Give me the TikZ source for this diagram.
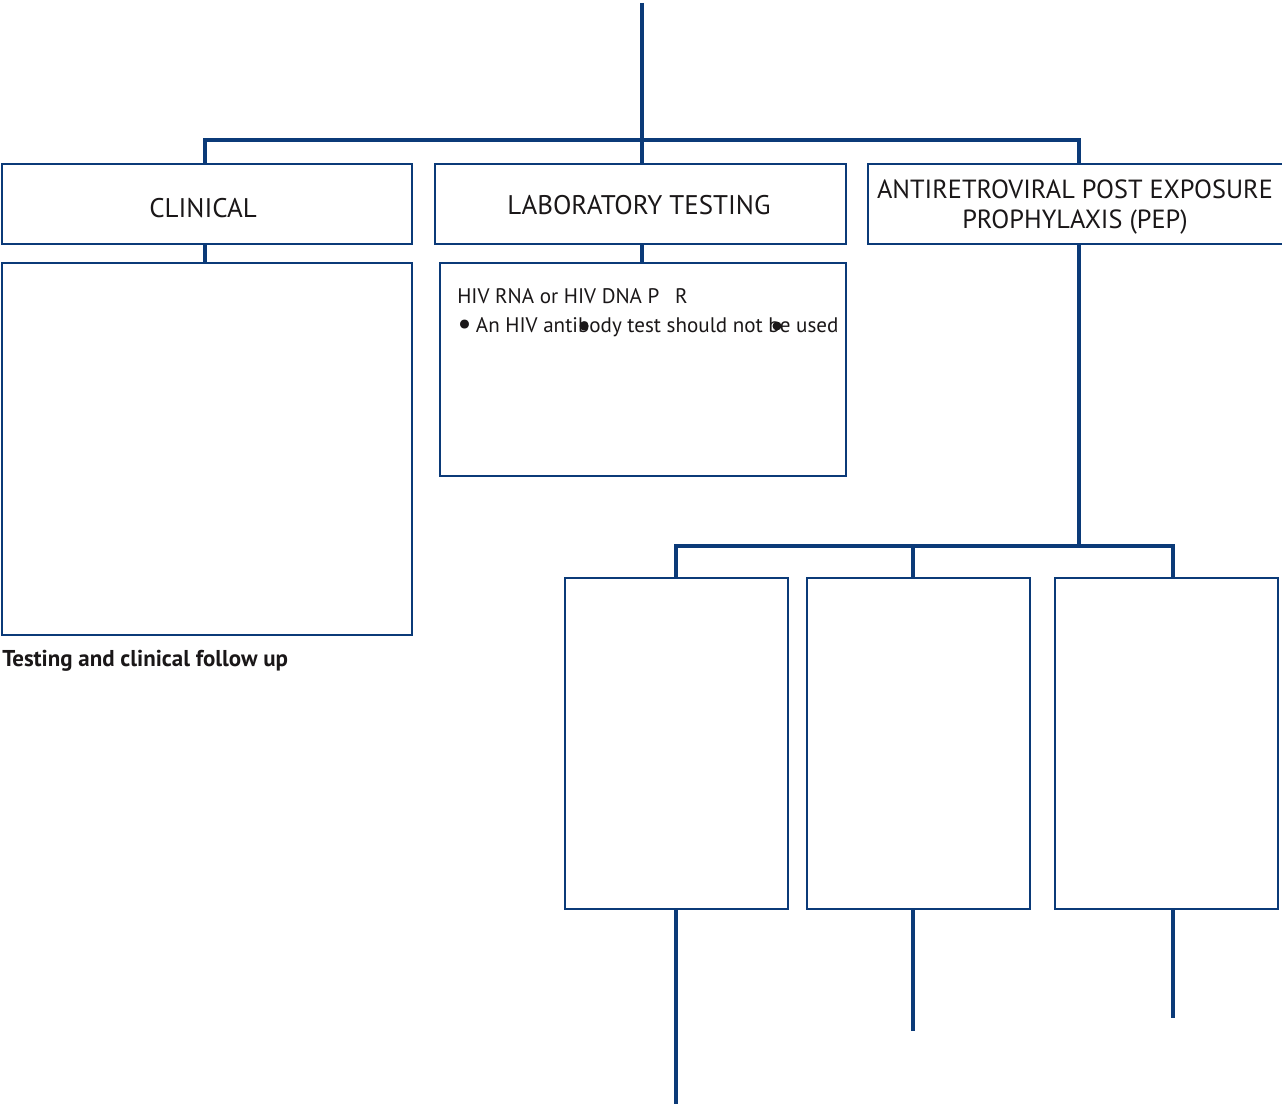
\documentclass[tikz,border=0pt]{standalone}
\usepackage{fontspec}
\setmainfont{PT Sans}
\usetikzlibrary{positioning}
\definecolor{navy}{HTML}{0B3A78}
\definecolor{ink}{HTML}{1A1718}
\tikzset{
  box/.style={draw=navy, line width=0.9pt, fill=white, inner sep=0pt},
  link/.style={draw=navy, line width=2.3pt},
  head/.style={text=ink, font=\fontsize{20.2}{22.5}\selectfont, align=center},
  body/.style={text=ink, font=\fontsize{15.8}{22}\selectfont, align=left, inner sep=0pt},
  note/.style={text=ink, font=\fontsize{17.2}{20}\selectfont\bfseries, inner sep=0pt}
}
\begin{document}
\begin{tikzpicture}[x=0.75pt,y=-0.75pt]
\clip (0,0) rectangle (1282,1106);
\fill[white] (0,0) rectangle (1282,1106);

% top-level headings
\node[box, minimum width=410*0.75pt, minimum height=80*0.75pt] (clin) at (207,204) {};
\node[head] (clint) at (203,208) {CLINICAL};
\node[box, minimum width=411*0.75pt, minimum height=80*0.75pt] (lab) at (640.5,204) {};
\node[head] (labt) at (639,205) {LABORATORY TESTING};
\node[box, minimum width=416*0.75pt, minimum height=80*0.75pt] (pep) at (1076,204) {};
\node[head, font=\fontsize{19.7}{22.5}\selectfont] (pept) at (1075,207) {ANTIRETROVIRAL POST EXPOSURE\\PROPHYLAXIS (PEP)};

% detail boxes
\node[box, minimum width=410*0.75pt, minimum height=372*0.75pt] (clinb) at (207,449) {};
\node[box, minimum width=406*0.75pt, minimum height=213*0.75pt] (labb) at (643,369.5) {};
\node[body, anchor=north west] (labtxt) at (457,288) {HIV RNA or HIV DNA P\hspace{0.75em}R\\\raisebox{-0.08em}{\fontsize{24}{22}\selectfont\textbullet}\hspace{0.2em}An HIV antibody test should not be used};
\fill[ink] (584,326) circle (4.5);
\fill[ink] (777,326) circle (4.5);

% PEP option boxes
\node[box, minimum width=223*0.75pt, minimum height=331*0.75pt] (opta) at (676.5,743.5) {};
\node[box, minimum width=223*0.75pt, minimum height=331*0.75pt] (optb) at (918.5,743.5) {};
\node[box, minimum width=223*0.75pt, minimum height=331*0.75pt] (optc) at (1166.5,743.5) {};

\node[note, anchor=north west] (follow) at (2,650) {Testing and clinical follow up};

% connectors
\coordinate (top) at (642,3);
\coordinate (busl) at (205,140);
\coordinate (busr) at (1079,140);
\draw[link] (top) -- (642,140);
\draw[link] (busl |- clin.north) -- (busl) -- (busr) -- (busr |- pep.north);
\draw[link] (642,140) -- (642,164);
\draw[link] (205,244) -- (205,263);
\draw[link] (642,244) -- (642,263);
\draw[link] (1079,244) -- (1079,546);
\draw[link] (676,578) -- (676,546) -- (1173,546) -- (1173,578);
\draw[link] (913,546) -- (913,578);
\coordinate (enda) at (676,1104);
\coordinate (endb) at (913,1031);
\coordinate (endc) at (1173,1018);
\draw[link] (676,909) -- (enda);
\draw[link] (913,909) -- (endb);
\draw[link] (1173,909) -- (endc);
\end{tikzpicture}
\end{document}
